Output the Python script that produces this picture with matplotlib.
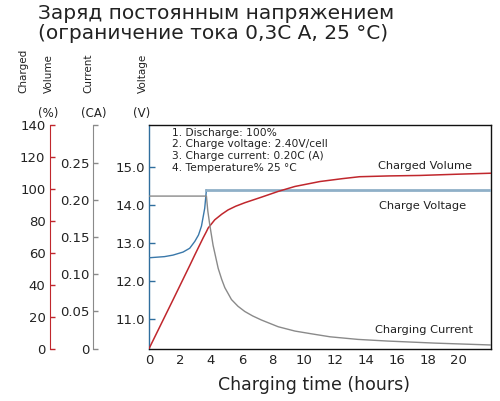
import numpy as np
import matplotlib
matplotlib.use("Agg")
import matplotlib.pyplot as plt

# charged volume (%)
t_volume = [0, 1.55, 2.65, 2.96, 3.5, 3.71, 3.82, 4.25, 4.7, 5.11, 5.6, 6.19, 7.27, 8.35, 9.43,
            11.05, 12.5, 13.6, 15.5, 17.5, 20.0, 22.1]
volume = [0, 30.6, 52.5, 58.8, 69.5, 73.4, 75.6, 80.8, 84.3, 87.0, 89.3, 91.5, 95.0, 98.6, 101.7,
          104.8, 106.6, 107.8, 108.3, 108.6, 109.4, 110.0]

# charging current (CA)
t_current = [0, 3.71, 3.8, 3.93, 4.14, 4.47, 4.7, 4.9, 5.33, 5.75, 6.19, 6.7, 7.27, 8.35, 9.43,
             10.5, 11.7, 13.5, 15.4, 18.5, 22.1]
current = [0.205, 0.205, 0.185, 0.166, 0.139, 0.108, 0.093, 0.082, 0.066, 0.057, 0.050, 0.044,
           0.0385, 0.0295, 0.0237, 0.020, 0.016, 0.0125, 0.0103, 0.0075, 0.005]

# charge voltage (V)
t_voltage = [0, 1.0, 1.55, 2.2, 2.63, 2.96, 3.2, 3.39, 3.6, 3.71]
voltage = [12.62, 12.65, 12.69, 12.77, 12.87, 13.05, 13.22, 13.45, 13.92, 14.40]
t_hold = [3.71, 22.1]
v_hold = [14.40, 14.40]

x_ticks = list(range(0, 21, 2))
volt_ticks = [11.0, 12.0, 13.0, 14.0, 15.0]
vol_ticks = list(range(0, 141, 20))
cur_ticks = [0, 0.05, 0.10, 0.15, 0.20, 0.25, 0.30]
cur_labels = ["0", "0.05", "0.10", "0.15", "0.20", "0.25", ""]

notes = ["1. Discharge: 100%", "2. Charge voltage: 2.40V/cell",
         "3. Charge current: 0.20C (A)", "4. Temperature% 25 \u00b0C"]

RED = "#c0272d"
GRAY = "#8a8a8a"
BLUE = "#2f6e9e"
TXT = "#222222"

plt.rcParams["font.family"] = ["DejaVu Sans"]
fig = plt.figure(figsize=(5.0, 4.01), dpi=100)
ax = fig.add_axes([0.298, 0.1304, 0.684, 0.557])

ax.plot(t_voltage, voltage, color="#3a78aa", lw=1.0, zorder=3)
ax.plot(t_hold, v_hold, color="#8fb0c8", lw=2.0, zorder=3)
ax.set_xlim(0, 22.1)
ax.set_ylim(10.23, 16.1)
ax.set_xticks(x_ticks)
ax.set_yticks(volt_ticks)
ax.set_yticklabels([f"{v:.1f}" for v in volt_ticks])
ax.tick_params(axis="x", length=0, pad=4, labelsize=9.5, colors=TXT)
ax.tick_params(axis="y", direction="in", length=4, width=1, pad=3, labelsize=9.5,
               color=BLUE, labelcolor=TXT)
ax.spines["left"].set_color(BLUE)
for s in ["top", "right", "bottom"]:
    ax.spines[s].set_color("#111111")
for s in ax.spines.values():
    s.set_linewidth(1.0)

# charged volume axis
ax_vol = ax.twinx()
ax_vol.plot(t_volume, volume, color=RED, lw=1.1, zorder=4)
ax_vol.set_ylim(0, 140)
ax_vol.set_yticks(vol_ticks)
ax_vol.yaxis.set_ticks_position("left")
ax_vol.yaxis.set_label_position("left")
ax_vol.spines["left"].set_position(("outward", 71.6))
ax_vol.spines["left"].set_color(RED)
ax_vol.spines["left"].set_visible(True)
for s in ["top", "right", "bottom"]:
    ax_vol.spines[s].set_visible(False)
ax_vol.tick_params(axis="y", direction="in", length=3.5, width=1, pad=3, labelsize=9.5,
                   color=RED, labelcolor=TXT)

# charging current axis
ax_cur = ax.twinx()
ax_cur.plot(t_current, current, color=GRAY, lw=1.0, zorder=4)
ax_cur.set_ylim(0, 0.30)
ax_cur.set_yticks(cur_ticks)
ax_cur.set_yticklabels(cur_labels)
ax_cur.yaxis.set_ticks_position("left")
ax_cur.yaxis.set_label_position("left")
ax_cur.spines["left"].set_position(("outward", 40.0))
ax_cur.spines["left"].set_color(GRAY)
ax_cur.spines["left"].set_visible(True)
for s in ["top", "right", "bottom"]:
    ax_cur.spines[s].set_visible(False)
ax_cur.tick_params(axis="y", direction="in", length=3.5, width=1, pad=3, labelsize=9.5,
                   color=GRAY, labelcolor=TXT)

# title
fig.text(0.076, 0.990, "Заряд постоянным напряжением\n(ограничение тока 0,3C A, 25 \u00b0C)",
         ha="left", va="top", fontsize=14.5, color=TXT, linespacing=1.05)

# axis headers
fig.text(0.046, 0.768, "Charged", rotation=90, ha="center", va="bottom", fontsize=7.5, color=TXT)
fig.text(0.098, 0.768, "Volume", rotation=90, ha="center", va="bottom", fontsize=7.5, color=TXT)
fig.text(0.096, 0.718, "(%)", ha="center", va="center", fontsize=8.5, color=TXT)
fig.text(0.176, 0.768, "Current", rotation=90, ha="center", va="bottom", fontsize=7.5, color=TXT)
fig.text(0.188, 0.718, "(CA)", ha="center", va="center", fontsize=8.5, color=TXT)
fig.text(0.286, 0.768, "Voltage", rotation=90, ha="center", va="bottom", fontsize=7.5, color=TXT)
fig.text(0.284, 0.718, "(V)", ha="center", va="center", fontsize=8.5, color=TXT)

# notes
fig.text(0.344, 0.682, "\n".join(notes), ha="left", va="top", fontsize=7.7,
         color=TXT, linespacing=1.22)

# curve labels
fig.text(0.850, 0.586, "Charged Volume", ha="center", va="center", fontsize=8.2, color=TXT)
fig.text(0.846, 0.486, "Charge Voltage", ha="center", va="center", fontsize=8.2, color=TXT)
fig.text(0.848, 0.177, "Charging Current", ha="center", va="center", fontsize=8.2, color=TXT)

fig.text(0.628, 0.040, "Charging time (hours)", ha="center", va="center", fontsize=12.5, color=TXT)

fig.savefig("out.png", dpi=100)
